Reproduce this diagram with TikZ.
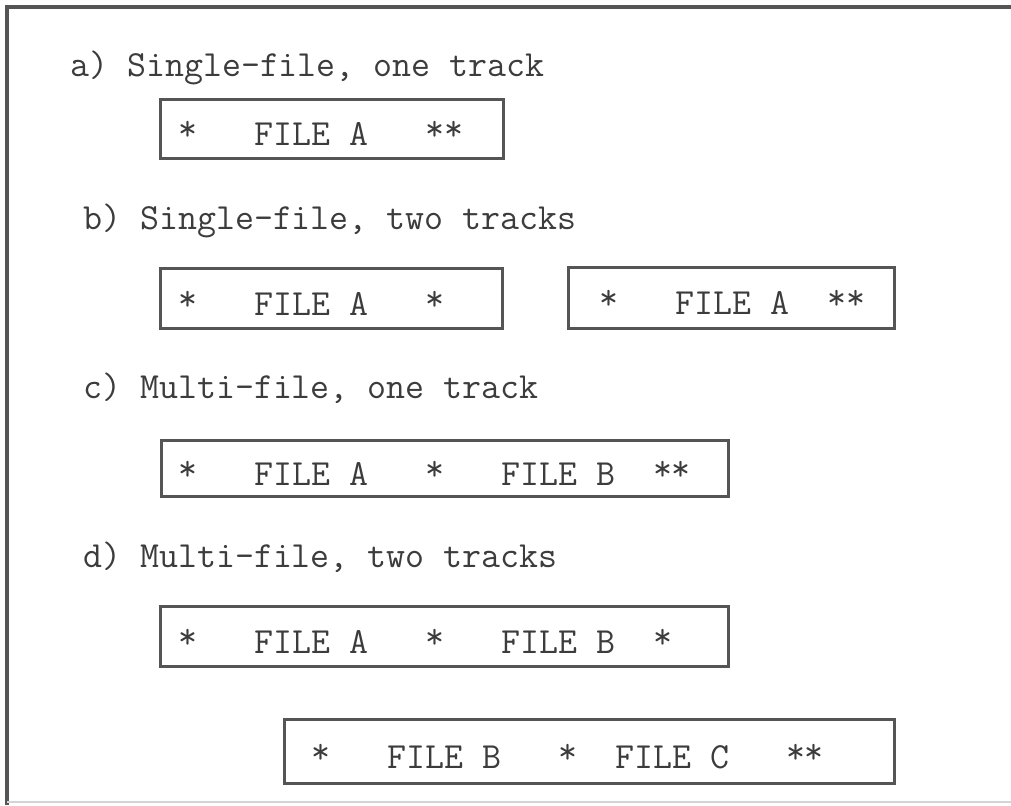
\documentclass[tikz,border=0pt]{standalone}
\usepackage{fontspec}
\usetikzlibrary{positioning}
\definecolor{ink}{HTML}{3C3C3C}
\definecolor{rule}{HTML}{555555}
\newcommand\tapefont{\ttfamily\fontsize{26.2}{30}\selectfont}
% one line of a tape: width, left indent, text
\newcommand\tapeline[3]{\makebox[#1][l]{\hspace*{#2}\tapefont #3}}
\newcommand\tstar{\raisebox{.14em}{*}}

\begin{document}
\begin{tikzpicture}[x=0.025cm,y=-0.025cm,
      tape/.style={draw=rule,line width=1.8pt,anchor=north west,
                   inner xsep=0pt,inner ysep=0pt,text height=.85cm,text depth=0pt,
                   font=\tapefont,text=ink},
      caption/.style={anchor=base west,inner sep=0pt,font=\tapefont,text=ink},
      frame/.style={draw=rule,line width=2.2pt}]
    \useasboundingbox (0,0) rectangle (1011,805);
    \draw[frame] (7,805) -- (7,7) -- (1011,7);
    \draw[rule!25,line width=1pt] (7,802) -- (1011,802);

    % a) one file on one track
    \node[caption] (capa) at (70,76) {a) Single-file, one track};
    \node[tape,minimum height=1.475cm] (onea) at (159,98)
      {\tapeline{8.575cm}{.46cm}{\tstar~~~FILE~A~~~\tstar\tstar}};

    % b) one file over two tracks
    \node[caption] (capb) at (83,229) {b) Single-file, two tracks};
    \node[tape,minimum height=1.5cm] (twoa) at (159,267)
      {\tapeline{8.55cm}{.46cm}{\tstar~~~FILE~A~~~\tstar}};
    \node[tape,minimum height=1.525cm] (twob) at (567,266)
      {\tapeline{8.15cm}{.785cm}{\tstar~~~FILE~A~~\tstar\tstar}};

    % c) several files on one track
    \node[caption] (capc) at (83,398) {c) Multi-file, one track};
    \node[tape,minimum height=1.4cm] (multi) at (160,439)
      {\tapeline{14.175cm}{.435cm}{\tstar~~~FILE~A~~~\tstar~~~FILE~B~~\tstar\tstar}};

    % d) several files over two tracks
    \node[caption] (capd) at (83,567) {d) Multi-file, two tracks};
    \node[tape,minimum height=1.5cm] (multa) at (159,605)
      {\tapeline{14.2cm}{.46cm}{\tstar~~~FILE~A~~~\tstar~~~FILE~B~~\tstar}};
    \node[tape,minimum height=1.6cm] (multb) at (283,718)
      {\tapeline{15.25cm}{.685cm}{\tstar~~~FILE~B~~~\tstar~~FILE~C~~~\tstar\tstar}};
\end{tikzpicture}
\end{document}
